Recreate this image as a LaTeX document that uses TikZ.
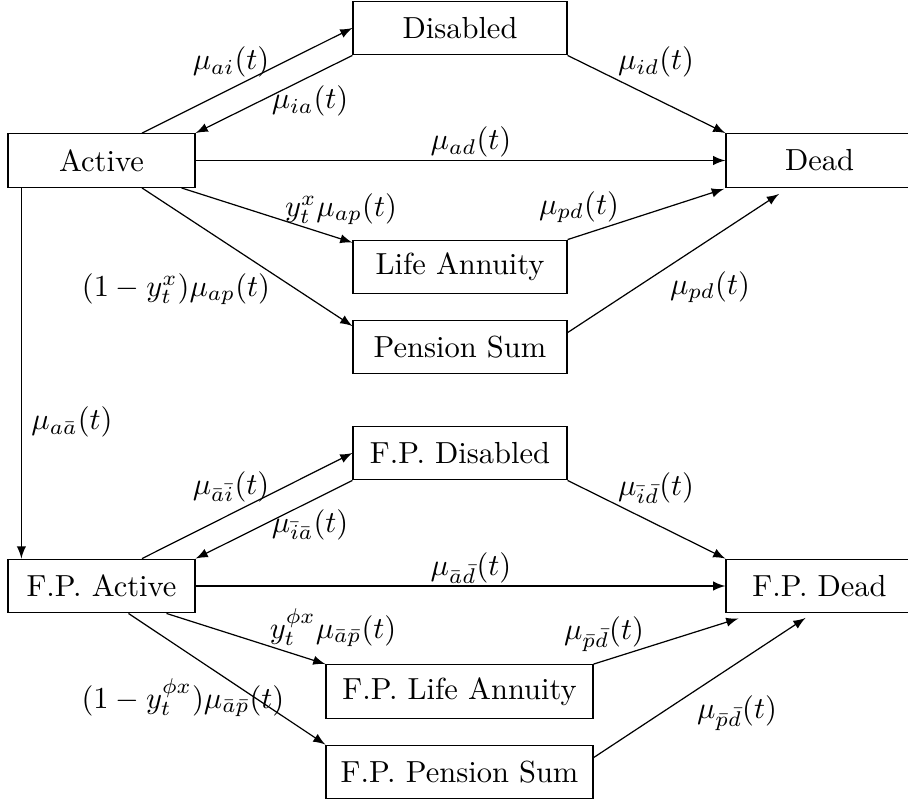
\documentclass[tikz,border=0pt]{standalone}
\usetikzlibrary{calc}
\begin{document}
\begin{tikzpicture}[x=0.328pt,y=-0.328pt,
  state/.style={draw,inner sep=0pt,minimum height=17.6pt},
  wbox/.style={state,minimum width=70.19pt},
  sbox/.style={state,minimum width=61.34pt},
  lbox/.style={state,minimum width=87.58pt},
  lbl/.style={inner sep=0pt},
  arr/.style={-latex,line width=0.4pt}]
\useasboundingbox (0,0) rectangle (908,804);
% upper block
\node[wbox] (dis) at (460,28) {Disabled};
\node[sbox] (act) at (101.5,160.5) {Active};
\node[sbox] (dead) at (819.5,160.5) {Dead};
\node[wbox] (la) at (460,267) {Life Annuity};
\node[wbox] (ps) at (460,347) {Pension Sum};
% lower block
\node[wbox] (fdis) at (460,453) {F.P. Disabled};
\node[sbox] (fact) at (101.5,586) {F.P. Active};
\node[sbox] (fdead) at (819.5,586) {F.P. Dead};
\node[lbox] (fla) at (459.5,691.5) {F.P. Life Annuity};
\node[lbox] (fps) at (459.5,772) {F.P. Pension Sum};

% upper connectors
\draw[arr] ($(act.north)+(40.5,0)$) -- (dis.west);
\draw[arr] (dis.south west) -- (act.north east);
\draw[arr] (act.east) -- (dead.west);
\draw[arr] (dis.south east) -- (dead.north west);
\draw[arr] ($(act.south)+(80,0)$) -- ($(la.north west)+(0,3)$);
\draw[arr] ($(act.south)+(40.5,0)$) -- ($(ps.north west)+(0,6.5)$);
\draw[arr] (la.north east) -- ($(dead.south west)+(-1.5,1)$);
\draw[arr] ($(ps.north east)+(0,13)$) -- ($(dead.south)+(-40.5,6)$);
% vertical
\draw[arr] ($(act.south west)+(14,0)$) -- ($(fact.north west)+(14,0)$);
% lower connectors
\draw[arr] ($(fact.north)+(40.5,0)$) -- (fdis.west);
\draw[arr] (fdis.south west) -- (fact.north east);
\draw[arr] (fact.east) -- (fdead.west);
\draw[arr] (fdis.south east) -- (fdead.north west);
\draw[arr] ($(fact.south)+(65,0)$) -- (fla.north west);
\draw[arr] ($(fact.south)+(27,0)$) -- (fps.north west);
\draw[arr] (fla.north east) -- ($(fdead.south west)+(13,5)$);
\draw[arr] ($(fps.north east)+(0,13)$) -- ($(fdead.south)+(-14,4.5)$);

% labels upper
\node[lbl] (l1) at (231,62) {$\mu_{ai}(t)$};
\node[lbl] (l2) at (310,101) {$\mu_{ia}(t)$};
\node[lbl] (l3) at (656,62) {$\mu_{id}(t)$};
\node[lbl] (l4) at (471,142) {$\mu_{ad}(t)$};
\node[lbl] (l5) at (341,209) {$y_t^x\mu_{ap}(t)$};
\node[lbl] (l6) at (579,207) {$\mu_{pd}(t)$};
\node[lbl] (l7) at (176,289) {$(1-y_t^x)\mu_{ap}(t)$};
\node[lbl] (l8) at (710,287) {$\mu_{pd}(t)$};
\node[lbl] (l9) at (72,422) {$\mu_{a\bar{a}}(t)$};
% labels lower
\node[lbl] (m1) at (231,487) {$\mu_{\bar{a}\bar{i}}(t)$};
\node[lbl] (m2) at (310,525) {$\mu_{\bar{i}\bar{a}}(t)$};
\node[lbl] (m3) at (656,488) {$\mu_{\bar{i}\bar{d}}(t)$};
\node[lbl] (m4) at (471,568) {$\mu_{\bar{a}\bar{d}}(t)$};
\node[lbl] (m5) at (333,628) {$y_t^{\phi x}\mu_{\bar{a}\bar{p}}(t)$};
\node[lbl] (m6) at (604,634) {$\mu_{\bar{p}\bar{d}}(t)$};
\node[lbl] (m7) at (183,698) {$(1-y_t^{\phi x})\mu_{\bar{a}\bar{p}}(t)$};
\node[lbl] (m8) at (737,713) {$\mu_{\bar{p}\bar{d}}(t)$};
\end{tikzpicture}
\end{document}
